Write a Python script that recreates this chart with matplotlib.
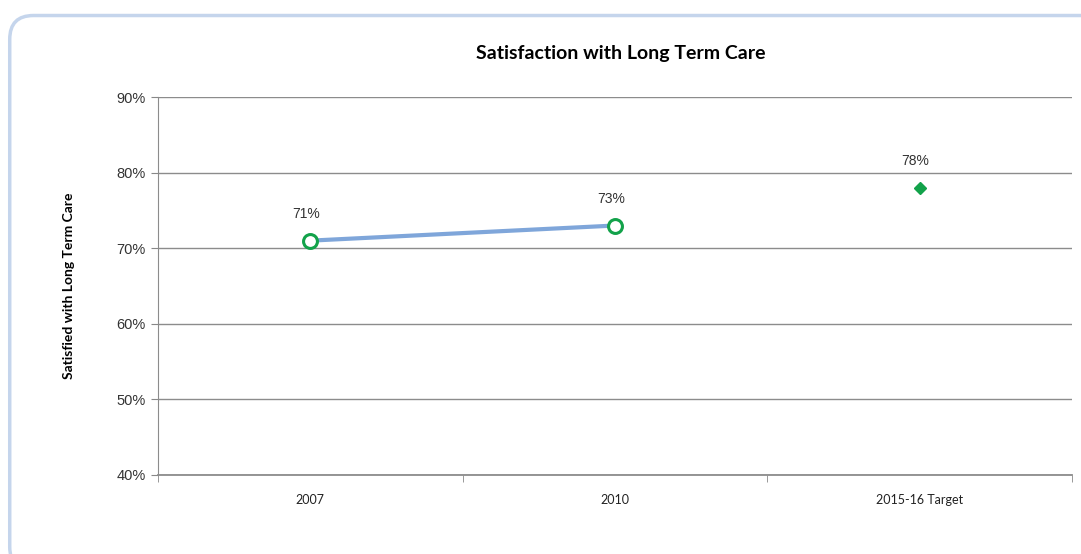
import matplotlib.pyplot as plt
from matplotlib.patches import FancyBboxPatch

# 데이터
categories = ["2007", "2010", "2015-16 Target"]
actual_x = [0, 1]
actual_vals = [71, 73]
target_x = [2]
target_vals = [78]
yticks = [40, 50, 60, 70, 80, 90]

fig = plt.figure(figsize=(10.81, 5.54), dpi=100)

# 바깥 둥근 테두리 (오른쪽/아래는 잘림)
border = FancyBboxPatch((0.009, -0.03), 1.05, 1.002, boxstyle="round,pad=0,rounding_size=0.022",
                        transform=fig.transFigure, facecolor="none", edgecolor="#c5d5ec",
                        linewidth=2.5, mutation_aspect=1081/554, zorder=0)
fig.patches.append(border)

ax = fig.add_axes([0.1462, 0.1426, 0.8455, 0.6823])
ax.set_facecolor("none")

# 실제 값 (선 + 빈 원)
ax.plot(actual_x, actual_vals, color="#7fa6da", linewidth=3, zorder=3)
ax.plot(actual_x, actual_vals, linestyle="none", marker="o", markersize=10,
        markerfacecolor="white", markeredgecolor="#12a24a", markeredgewidth=2.2, zorder=4)
# 목표 값
ax.plot(target_x, target_vals, linestyle="none", marker="D", markersize=6.5,
        color="#12a24a", zorder=4)

for x, v in zip(actual_x + target_x, actual_vals + target_vals):
    ax.annotate(f"{v}%", (x, v), xytext=(-3, 14), textcoords="offset points",
                ha="center", va="bottom", fontsize=10, family="Liberation Sans", color="#333333")

ax.set_xlim(-0.5, 2.5)
ax.set_ylim(40, 90)
ax.set_yticks(yticks)
ax.set_yticklabels([f"{t}%" for t in yticks], family="Liberation Sans", fontsize=10.5, color="#333333")
ax.set_xticks([0, 1, 2])
ax.set_xticklabels(categories, family="Lato", fontsize=9, color="#222222")
ax.set_xticks([-0.5, 0.5, 1.5, 2.5], minor=True)
ax.tick_params(axis="x", which="major", length=0, pad=14)
ax.tick_params(axis="x", which="minor", length=5, color="#888888", direction="out")
ax.tick_params(axis="y", length=5, color="#888888", pad=4)

ax.grid(axis="y", color="#8c8c8c", linewidth=1)
ax.set_axisbelow(True)
for s in ["top", "right"]:
    ax.spines[s].set_visible(False)
ax.spines["left"].set_color("#8c8c8c")
ax.spines["bottom"].set_color("#8c8c8c")
ax.spines["bottom"].set_linewidth(1.3)

ax.set_ylabel("Satisfied with Long Term Care", family="Lato", fontweight="bold",
              fontsize=10, labelpad=30)
fig.text(0.574, 0.904, "Satisfaction with Long Term Care", ha="center", va="center",
         family="Lato", fontweight="bold", fontsize=14)

fig.savefig("out.png", dpi=100)
